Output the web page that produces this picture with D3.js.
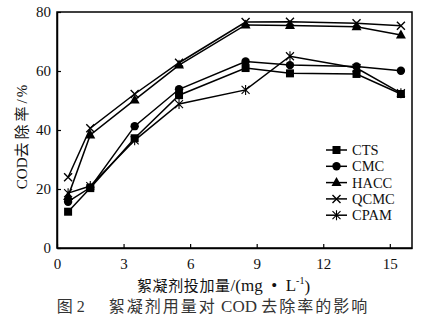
<!DOCTYPE html>
<html><head><meta charset="utf-8">
<script src="https://cdn.jsdelivr.net/npm/d3@7"></script>
<style>body{margin:0;background:#fff}svg{display:block}</style>
</head><body>
<svg id="c" width="435" height="322"></svg>
<script>
const doses = [0.5, 1.5, 3.5, 5.5, 8.5, 10.5, 13.5, 15.5];
const seriesNames = ["CTS", "CMC", "HACC", "QCMC", "CPAM"];
const cts  = [12.3, 20.3, 37.2, 51.8, 61.0, 59.2, 59.0, 52.2];
const cmc  = [15.7, 20.5, 41.3, 53.8, 63.2, 62.0, 61.5, 60.1];
const hacc = [17.5, 38.3, 50.2, 62.0, 75.6, 75.4, 75.0, 72.2];
const qcmc = [24.0, 40.6, 52.2, 62.8, 76.6, 76.7, 76.2, 75.3];
const cpam = [18.6, 21.0, 36.5, 48.8, 53.6, 65.0, 61.0, 52.5];
const xTicks = [0, 3, 6, 9, 12, 15];
const yTicks = [0, 20, 40, 60, 80];
const markers = ["square", "circle", "triangle", "cross", "star"];
const allValues = [cts, cmc, hacc, qcmc, cpam];

const svg = d3.select("#c");
const L = 57, R = 412, T = 12, B = 248;
const x = d3.scaleLinear().domain([0, 16]).range([L, R]);
const y = d3.scaleLinear().domain([0, 80]).range([B, T]);
const serif = "'Liberation Serif','Times New Roman',serif";
const cjk = "'Liberation Serif','Noto Sans CJK SC',serif";

// frame
svg.append("rect").attr("x", L).attr("y", T).attr("width", R - L).attr("height", B - T)
  .attr("fill", "none").attr("stroke", "#000").attr("stroke-width", 1.5);

const xAxis = svg.append("g").attr("transform", `translate(0,${B})`)
  .call(d3.axisBottom(x).tickValues(xTicks).tickSizeInner(-4).tickSizeOuter(0).tickPadding(10));
const yAxis = svg.append("g").attr("transform", `translate(${L},0)`)
  .call(d3.axisLeft(y).tickValues(yTicks).tickSizeInner(-4).tickSizeOuter(0).tickPadding(6));
[xAxis, yAxis].forEach(a => {
  a.select(".domain").attr("stroke", "#000").attr("stroke-width", 1.5);
  a.selectAll(".tick line").attr("stroke", "#000").attr("stroke-width", 1.2);
  a.selectAll("text").attr("font-family", serif).attr("font-size", 15).attr("fill", "#111");
});

function drawMarker(g, type, cx, cy) {
  if (type === "square") {
    g.append("rect").attr("x", cx - 4).attr("y", cy - 4).attr("width", 8).attr("height", 8).attr("fill", "#000");
  } else if (type === "circle") {
    g.append("circle").attr("cx", cx).attr("cy", cy).attr("r", 4.2).attr("fill", "#000");
  } else if (type === "triangle") {
    g.append("path").attr("d", `M${cx},${cy - 5.5}L${cx + 5},${cy + 3.5}L${cx - 5},${cy + 3.5}Z`).attr("fill", "#000");
  } else if (type === "cross") {
    g.append("path").attr("d", `M${cx - 4},${cy - 4}L${cx + 4},${cy + 4}M${cx - 4},${cy + 4}L${cx + 4},${cy - 4}`)
      .attr("stroke", "#000").attr("stroke-width", 1.4);
  } else {
    g.append("path").attr("d", `M${cx - 4},${cy - 4}L${cx + 4},${cy + 4}M${cx - 4},${cy + 4}L${cx + 4},${cy - 4}M${cx},${cy - 5}L${cx},${cy + 5}`)
      .attr("stroke", "#000").attr("stroke-width", 1.1);
  }
}

const line = d3.line().x((d, i) => x(doses[i])).y(d => y(d));
allValues.forEach((vals, s) => {
  const g = svg.append("g");
  g.append("path").attr("d", line(vals)).attr("fill", "none").attr("stroke", "#000").attr("stroke-width", 1.5);
  vals.forEach((v, i) => drawMarker(g, markers[s], x(doses[i]), y(v)));
});

// legend
const leg = svg.append("g");
seriesNames.forEach((n, i) => {
  const ly = 150 + i * 16.3;
  leg.append("line").attr("x1", 326).attr("x2", 347).attr("y1", ly).attr("y2", ly).attr("stroke", "#000").attr("stroke-width", 1.5);
  drawMarker(leg, markers[i], 336.5, ly);
  leg.append("text").attr("x", 352).attr("y", ly).attr("dy", "0.35em").attr("font-family", serif)
    .attr("font-size", 14.5).attr("fill", "#111").text(n);
});

// axis titles
const yt = svg.append("text").attr("transform", "translate(22,136) rotate(-90)").attr("text-anchor", "middle")
  .attr("dy", "0.35em").attr("font-family", cjk).attr("font-size", 15).attr("fill", "#111");
yt.append("tspan").text("COD");
yt.append("tspan").attr("letter-spacing", 3).text("去除率");
yt.append("tspan").attr("letter-spacing", 2).text("/%");

const xt = svg.append("text").attr("x", 137).attr("y", 286).attr("text-anchor", "start").attr("dy", "0.35em")
  .attr("font-family", cjk).attr("font-size", 15).attr("fill", "#111");
xt.append("tspan").attr("letter-spacing", 0.6).text("絮凝剂投加量");
xt.append("tspan").attr("font-size", 17).text("/(mg");
xt.append("tspan").attr("font-size", 17).attr("xml:space", "preserve").text("  •  ");
xt.append("tspan").attr("font-size", 17).text("L");
xt.append("tspan").attr("font-size", 10).attr("dy", "-0.7em").text("-1");
xt.append("tspan").attr("font-size", 17).attr("dy", "0.45em").text(")");

const cap = svg.append("text").attr("x", 213).attr("y", 306).attr("text-anchor", "middle").attr("dy", "0.35em")
  .attr("font-family", cjk).attr("font-size", 16).attr("fill", "#333").attr("xml:space", "preserve");
cap.append("tspan").text("图 2      ");
cap.append("tspan").attr("letter-spacing", 2).text("絮凝剂用量对");
cap.append("tspan").attr("font-size", 17).text(" COD ");
cap.append("tspan").attr("letter-spacing", 2).text("去除率的影响");
</script>
</body></html>
